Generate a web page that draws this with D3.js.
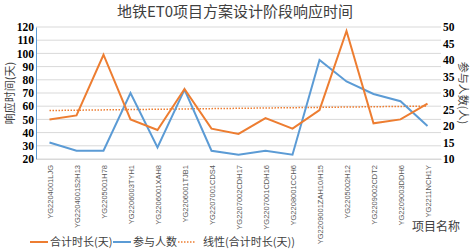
<!DOCTYPE html>
<html>
<head>
<meta charset="utf-8">
<script src="https://cdn.jsdelivr.net/npm/d3@7/dist/d3.min.js"></script>
<style>
  body { margin: 0; background: #fff; }
  svg { display: block; }
</style>
</head>
<body>
<script>
var width = 472;
var height = 249;

var projects = ['YG2204001LJG', 'YG2204001S2H13', 'YG2205001H78', 'YG2206003TYH1', 'YG2206001XAH8',
  'YG2206001TJB1', 'YG2207001CDS4', 'YG2207002CDH17', 'YG2207001CDH16', 'YG2208001CCH6',
  'YG2209001ZAH10/H15', 'YG2205002H12', 'YG2209002CDT2', 'YG2209003DDH6', 'YG2211NCH1Y'];
var totalDays = [50, 53, 99, 50, 42, 73, 43, 39, 51, 43, 57, 117, 47, 50, 62];
var people = [15, 12.5, 12.5, 30, 13.5, 31, 12.5, 11.3, 12.5, 11.3, 40, 33.5, 29.7, 27.5, 20];
var leftTicks = [20, 30, 40, 50, 60, 70, 80, 90, 100, 110, 120];
var rightTicks = [10, 15, 20, 25, 30, 35, 40, 45, 50];

var orange = '#ED7D31';
var blue = '#5B9BD5';
var serif = '"Liberation Serif", "Noto Sans CJK SC", serif';
var cjk = '"Noto Sans CJK SC", sans-serif';

var plot = { left: 36, right: 441, top: 27, bottom: 159 };

var x = d3.scaleBand().domain(projects).range([plot.left, plot.right]);
var yLeft = d3.scaleLinear().domain([20, 120]).range([plot.bottom, plot.top]);
var yRight = d3.scaleLinear().domain([10, 50]).range([plot.bottom, plot.top]);

function cx(d) { return x(d) + x.bandwidth() / 2; }

var svg = d3.select('body').append('svg')
  .attr('width', width)
  .attr('height', height);

// gridlines
svg.append('g')
  .selectAll('line')
  .data(leftTicks)
  .enter()
    .append('line')
    .attr('x1', plot.left)
    .attr('x2', plot.right)
    .attr('y1', function(d) { return yLeft(d); })
    .attr('y2', function(d) { return yLeft(d); })
    .attr('stroke', '#d9d9d9')
    .attr('stroke-width', 1);

// left axis
var leftAxis = svg.append('g')
  .attr('transform', 'translate(' + plot.left + ',0)')
  .call(d3.axisLeft(yLeft).tickValues(leftTicks).tickSize(0).tickPadding(2));
leftAxis.select('.domain').attr('stroke', blue).attr('stroke-width', 1);
leftAxis.selectAll('text')
  .attr('font-family', serif)
  .attr('font-weight', 'bold')
  .attr('font-size', 11.5)
  .attr('fill', '#000');

// right axis
var rightAxis = svg.append('g')
  .attr('transform', 'translate(' + plot.right + ',0)')
  .call(d3.axisRight(yRight).tickValues(rightTicks).tickSize(0).tickPadding(2));
rightAxis.select('.domain').remove();
rightAxis.selectAll('text')
  .attr('font-family', serif)
  .attr('font-weight', 'bold')
  .attr('font-size', 11.5)
  .attr('fill', '#000');

// bottom axis
var bottomAxis = svg.append('g')
  .attr('transform', 'translate(0,' + plot.bottom + ')')
  .call(d3.axisBottom(x).tickSize(0).tickPadding(0));
bottomAxis.select('.domain').attr('stroke', '#d9d9d9');
bottomAxis.selectAll('text')
  .attr('font-family', '"Liberation Sans", Arial, sans-serif')
  .attr('font-size', 7.5)
  .attr('fill', '#595959')
  .attr('text-anchor', 'end')
  .attr('transform', 'translate(3,6) rotate(-90)')
  .attr('dy', 0)
  .attr('y', 0)
  .attr('x', 0);

// trend line (least squares on total days)
var n = totalDays.length;
var meanI = (n - 1) / 2;
var meanV = d3.mean(totalDays);
var sxy = d3.sum(totalDays, function(v, i) { return (i - meanI) * (v - meanV); });
var sxx = d3.sum(totalDays, function(v, i) { return (i - meanI) * (i - meanI); });
var slope = sxy / sxx;
var trend = totalDays.map(function(v, i) { return meanV + slope * (i - meanI); });

var line = d3.line()
  .x(function(d, i) { return cx(projects[i]); });

svg.append('path')
  .datum(trend)
  .attr('fill', 'none')
  .attr('stroke', orange)
  .attr('stroke-width', 1.5)
  .attr('stroke-dasharray', '1.5,1.5')
  .attr('d', line.y(function(d) { return yLeft(d); }));

svg.append('path')
  .datum(people)
  .attr('fill', 'none')
  .attr('stroke', blue)
  .attr('stroke-width', 2)
  .attr('d', line.y(function(d) { return yRight(d); }));

svg.append('path')
  .datum(totalDays)
  .attr('fill', 'none')
  .attr('stroke', orange)
  .attr('stroke-width', 2)
  .attr('d', line.y(function(d) { return yLeft(d); }));

// titles
svg.append('text')
  .attr('x', 235)
  .attr('y', 17)
  .attr('text-anchor', 'middle')
  .attr('font-family', cjk)
  .attr('font-size', 15)
  .attr('fill', '#404040')
  .text('地铁ET0项目方案设计阶段响应时间');

svg.append('text')
  .attr('transform', 'translate(10,93) rotate(-90)')
  .attr('text-anchor', 'middle')
  .attr('dy', '0.35em')
  .attr('font-family', cjk)
  .attr('font-size', 11)
  .attr('fill', '#404040')
  .text('响应时间(天)');

svg.append('text')
  .attr('transform', 'translate(463,93) rotate(90)')
  .attr('text-anchor', 'middle')
  .attr('dy', '0.35em')
  .attr('font-family', cjk)
  .attr('font-size', 11)
  .attr('fill', '#404040')
  .text('参与人数(人)');

svg.append('text')
  .attr('x', 460)
  .attr('y', 231)
  .attr('text-anchor', 'end')
  .attr('font-family', cjk)
  .attr('font-size', 12)
  .attr('fill', '#404040')
  .text('项目名称');

// legend
var legendItems = [
  { label: '合计时长(天)', color: orange, dash: null, x: 30 },
  { label: '参与人数', color: blue, dash: null, x: 113 },
  { label: '线性(合计时长(天))', color: orange, dash: '1.5,1.5', x: 178 }
];

var legend = svg.append('g')
  .selectAll('g')
  .data(legendItems)
  .enter()
    .append('g')
    .attr('transform', function(d) { return 'translate(' + d.x + ',242)'; });

legend.append('line')
  .attr('x1', 0)
  .attr('x2', 18)
  .attr('stroke', function(d) { return d.color; })
  .attr('stroke-width', function(d) { return d.dash ? 1.5 : 2; })
  .attr('stroke-dasharray', function(d) { return d.dash; });

legend.append('text')
  .attr('x', function(d) { return d.dash ? 25 : 20; })
  .attr('y', 4)
  .attr('font-family', cjk)
  .attr('font-size', 11)
  .attr('fill', '#404040')
  .text(function(d) { return d.label; });
</script>
</body>
</html>
